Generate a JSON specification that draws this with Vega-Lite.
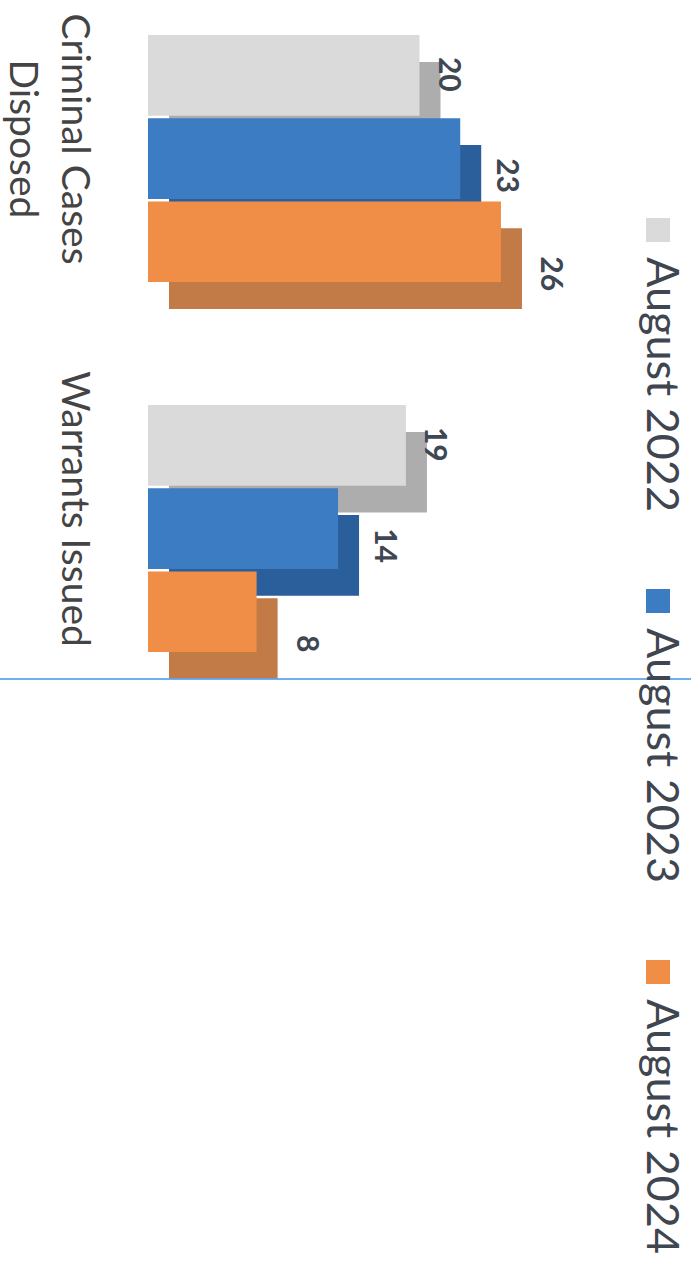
{
  "$schema": "https://vega.github.io/schema/vega-lite/v6.json",
  "autosize": {"type": "none"},
  "padding": {"left": 148, "top": 35, "right": 0, "bottom": 0},
  "width": 543,
  "height": 1232,
  "background": "white",
  "config": {"view": {"stroke": null}, "font": "Lato"},
  "datasets": {
    "bars": [
      {"category": "Criminal Cases Disposed", "year": "August 2022", "value": 20},
      {"category": "Criminal Cases Disposed", "year": "August 2023", "value": 23},
      {"category": "Criminal Cases Disposed", "year": "August 2024", "value": 26},
      {"category": "Warrants Issued", "year": "August 2022", "value": 19},
      {"category": "Warrants Issued", "year": "August 2023", "value": 14},
      {"category": "Warrants Issued", "year": "August 2024", "value": 8}
    ],
    "years": [
      {"year": "August 2022"},
      {"year": "August 2023"},
      {"year": "August 2024"}
    ]
  },
  "layer": [
    {
      "data": {"name": "bars"},
      "mark": {"type": "bar", "xOffset": 21, "x2Offset": 21},
      "encoding": {
        "y": {"field": "category", "type": "nominal", "axis": null,
              "scale": {"type": "band", "domain": ["Criminal Cases Disposed", "Warrants Issued"], "paddingInner": 0.2595, "paddingOuter": 0.7946, "align": 0}},
        "yOffset": {"field": "year", "type": "nominal",
              "scale": {"type": "band", "domain": ["August 2022", "August 2023", "August 2024"], "paddingInner": 0.03, "paddingOuter": 0.1616, "align": 1}},
        "x": {"field": "value", "type": "quantitative", "axis": null, "scale": {"domain": [0, 40]}},
        "color": {"field": "year", "type": "nominal", "legend": null,
              "scale": {"domain": ["August 2022", "August 2023", "August 2024"], "range": ["#adadad", "#2b5f9b", "#c27a47"]}}
      }
    },
    {
      "data": {"name": "bars"},
      "mark": {"type": "bar"},
      "encoding": {
        "y": {"field": "category", "type": "nominal",
              "scale": {"type": "band", "domain": ["Criminal Cases Disposed", "Warrants Issued"], "paddingInner": 0.2595, "paddingOuter": 0.7946, "align": 0},
              "axis": {"title": null, "domain": false, "ticks": false, "labelAngle": 90, "labelAlign": "center", "labelBaseline": "top",
                       "labelPadding": 56, "labelOffset": -33, "labelLineHeight": 52, "labelLimit": 500, "labelFont": "Lato", "labelFontSize": 39,
                       "labelColor": "#444444",
                       "labelExpr": "datum.value == 'Criminal Cases Disposed' ? ['Criminal Cases', 'Disposed'] : datum.label"}},
        "yOffset": {"field": "year", "type": "nominal",
              "scale": {"type": "band", "domain": ["August 2022", "August 2023", "August 2024"], "paddingInner": 0.03, "paddingOuter": 0.1616, "align": 0}},
        "x": {"field": "value", "type": "quantitative", "axis": null, "scale": {"domain": [0, 40]}},
        "color": {"field": "year", "type": "nominal", "legend": null,
              "scale": {"domain": ["August 2022", "August 2023", "August 2024"], "range": ["#dadada", "#3b7cc3", "#f08d46"]}}
      }
    },
    {
      "data": {"name": "bars"},
      "mark": {"type": "text", "angle": 90, "align": "center", "baseline": "alphabetic", "font": "Lato", "fontWeight": "bold", "fontSize": 30, "color": "#3f4752",
               "dx": {"expr": "datum.year == 'August 2022' ? -1 : datum.year == 'August 2023' ? 17 : 32"},
               "dy": {"expr": "datum.year == 'August 2022' ? -19 : datum.year == 'August 2023' ? -37 : -40"}},
      "encoding": {
        "y": {"field": "category", "type": "nominal", "axis": null,
              "scale": {"type": "band", "domain": ["Criminal Cases Disposed", "Warrants Issued"], "paddingInner": 0.2595, "paddingOuter": 0.7946, "align": 0}},
        "yOffset": {"field": "year", "type": "nominal",
              "scale": {"type": "band", "domain": ["August 2022", "August 2023", "August 2024"], "paddingInner": 0.03, "paddingOuter": 0.1616, "align": 0}},
        "x": {"field": "value", "type": "quantitative", "axis": null, "scale": {"domain": [0, 40]}},
        "text": {"field": "value", "type": "quantitative"}
      }
    },
    {
      "data": {"name": "years"},
      "mark": {"type": "rule", "color": "#5aa5ee", "strokeWidth": 1.2},
      "encoding": {
        "y": {"datum": "Warrants Issued", "type": "nominal", "bandPosition": 1, "axis": null,
              "scale": {"type": "band", "domain": ["Criminal Cases Disposed", "Warrants Issued"], "paddingInner": 0.2595, "paddingOuter": 0.7946, "align": 0}},
        "x": {"datum": -10.9},
        "x2": {"datum": 40}
      }
    },
    {
      "data": {"name": "years"},
      "mark": {"type": "point", "shape": "square", "filled": true, "size": 576, "opacity": 1},
      "encoding": {
        "y": {"field": "year", "type": "nominal", "axis": null, "scale": {"type": "point", "padding": 0.6604, "align": 0.398}},
        "x": {"datum": 37.57},
        "color": {"field": "year", "type": "nominal", "legend": null,
              "scale": {"domain": ["August 2022", "August 2023", "August 2024"], "range": ["#dadada", "#3b7cc3", "#f08d46"]}}
      }
    },
    {
      "data": {"name": "years"},
      "mark": {"type": "text", "angle": 90, "align": "left", "baseline": "middle", "dx": 27, "font": "Lato", "fontSize": 45, "color": "#3f4650"},
      "encoding": {
        "y": {"field": "year", "type": "nominal", "axis": null, "scale": {"type": "point", "padding": 0.6604, "align": 0.398}},
        "x": {"datum": 37.8},
        "text": {"field": "year", "type": "nominal"}
      }
    }
  ],
  "resolve": {"scale": {"y": "independent", "yOffset": "independent", "color": "independent"}}
}
